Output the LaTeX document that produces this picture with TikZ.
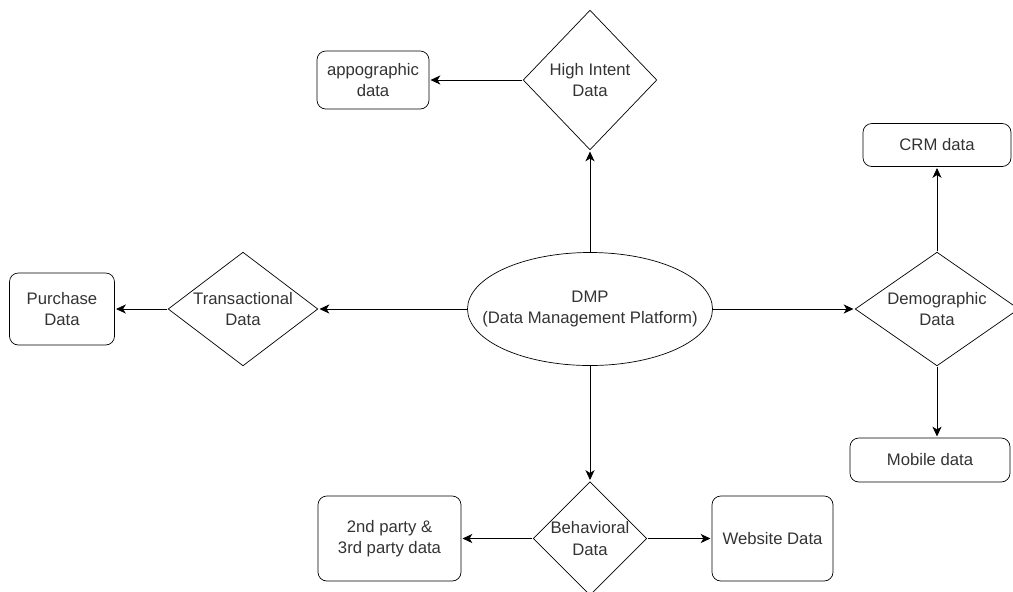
\documentclass[tikz,border=0pt]{standalone}
\usepackage{fontspec}
\setmainfont{Liberation Sans}
\usetikzlibrary{shapes.geometric,arrows.meta}

\begin{document}
\begin{tikzpicture}
\tikzset{ >={Stealth[length=6.5pt,width=6pt,inset=1.8pt]}, line width=0.8pt,
  every node/.style={font=\fontsize{9.5pt}{12pt}\selectfont, text=black!80, align=center},
  box/.style={draw, rounded corners=5pt, inner sep=0pt},
  choice/.style={draw, diamond, inner sep=0pt},
}

\useasboundingbox (0,0) rectangle (20.26,-11.82);

%\draw [lightgray, dashed](0,0) grid (21,-12);

\node [draw, ellipse, inner xsep=-15pt, inner ysep=0pt, minimum width=4.90cm, minimum height=2.26cm] (dmp) at (11.80,-6.18) {DMP\\(Data Management Platform)};

\node [choice, minimum width=2.68cm, minimum height=2.80cm, aspect=0.957] (high) at (11.80,-1.60) {High Intent\\Data};
\node [choice, minimum width=3.00cm, minimum height=2.28cm, aspect=1.316] (trans) at (4.86,-6.18) {Transactional\\Data};
\node [choice, minimum width=3.28cm, minimum height=2.28cm, aspect=1.44] (demo) at (18.74,-6.18) {Demographic\\Data};
\node [choice, minimum width=2.28cm, minimum height=2.28cm] (behav) at (11.80,-10.77) {Behavioral\\Data};

\node [box, minimum width=2.24cm, minimum height=1.16cm] (appo) at (7.46,-1.60) {appographic\\data};
\node [box, minimum width=2.10cm, minimum height=1.44cm] (purchase) at (1.24,-6.18) {Purchase\\Data};
\node [box, minimum width=2.96cm, minimum height=0.86cm] (crm) at (18.74,-2.90) {CRM data};
\node [box, minimum width=3.20cm, minimum height=0.88cm] (mobile) at (18.60,-9.20) {Mobile data};
\node [box, minimum width=2.86cm, minimum height=1.70cm] (party) at (7.79,-10.77) {2nd party \&\\3rd party data};
\node [box, minimum width=2.42cm, minimum height=1.70cm] (web) at (15.45,-10.77) {Website Data};

\draw [->] (dmp.north) -- (high.south);
\draw [->] (high.west) -- (appo.east);

\draw [->] (dmp.west)   -- (trans.east);
\draw [->] (trans.west) -- (purchase.east);

\draw [->] (dmp.east)   -- (demo.west);
\draw [->] (demo.north) -- (crm.south);
\draw [->] (demo.south) -- (demo.south |- mobile.north);

\draw [->] (dmp.south)  -- (behav.north);
\draw [->] (behav.west) -- (party.east);
\draw [->] (behav.east) -- (web.west);
\end{tikzpicture}
\end{document}
